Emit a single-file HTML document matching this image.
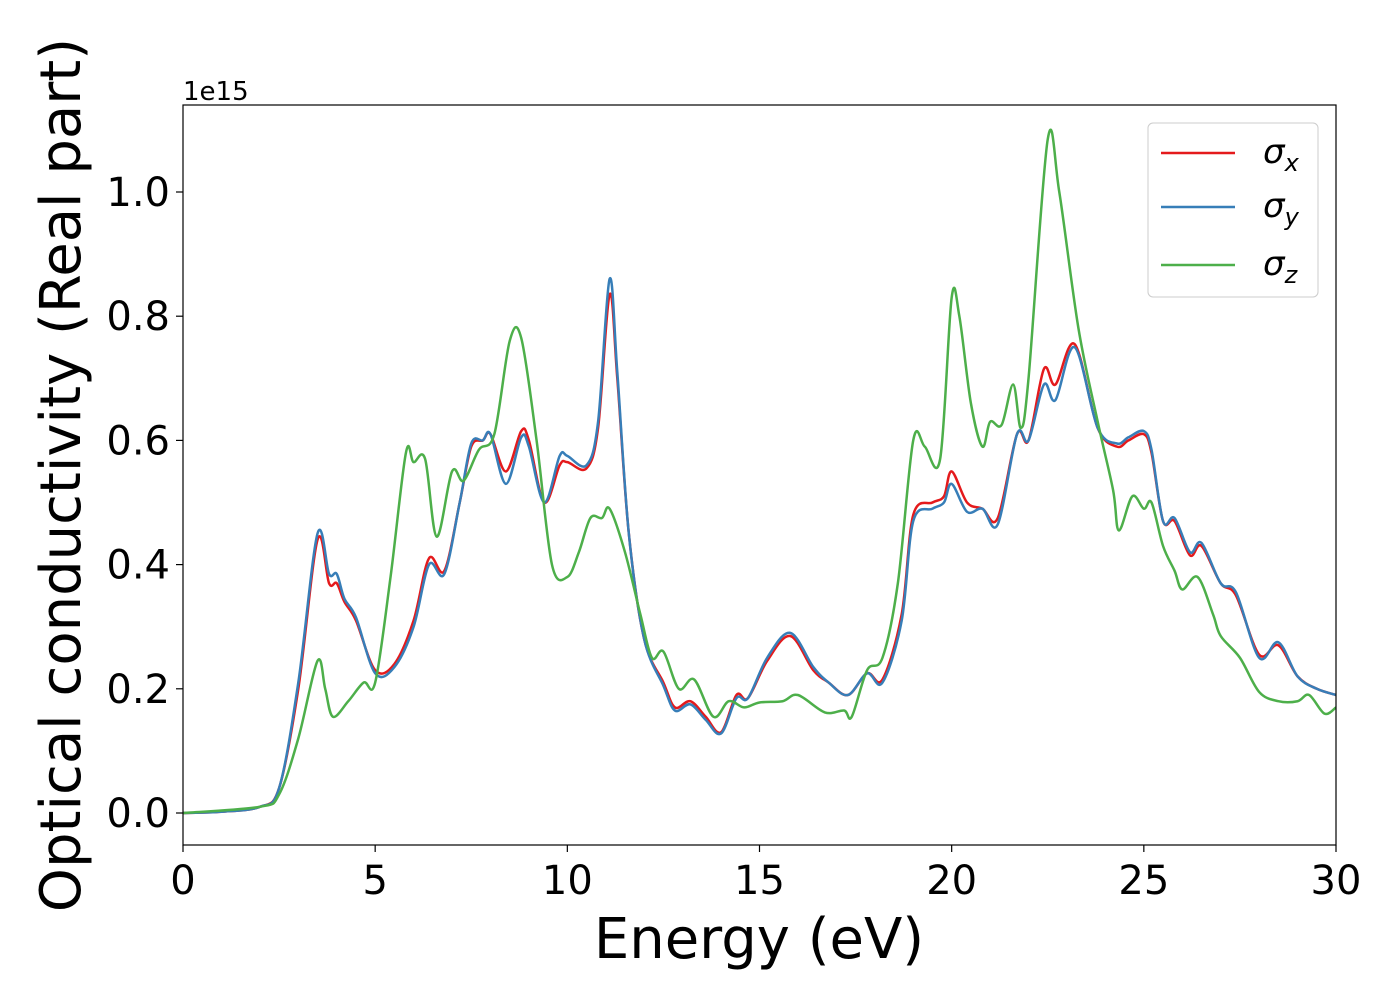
<!DOCTYPE html>
<html><head><meta charset="utf-8"><style>
body{margin:0;background:#fff;}
svg{display:block;font-family:"DejaVu Sans","Liberation Sans",sans-serif;}
</style></head><body>
<svg id="chart" width="1400" height="1000">
  <rect x="183" y="105" width="1153" height="740" fill="#fff"/>
  <g id="ticks"></g>
  <g id="lines"></g>
  <rect x="183" y="105" width="1153" height="740" fill="none" stroke="#000" stroke-width="1.2"/>
  <text x="183" y="100" font-size="26">1e15</text>
  <text x="759" y="958" font-size="56" text-anchor="middle">Energy (eV)</text>
  <text transform="translate(80,475) rotate(-90)" font-size="56" text-anchor="middle">Optical conductivity (Real part)</text>
  <g>
    <rect x="1148" y="123" width="170" height="174" rx="5" fill="#fff" fill-opacity="0.8" stroke="#ccc"/>
    <g><line x1="1161" y1="153" x2="1235" y2="153" stroke="#e41a1c" stroke-width="2.5"/><text x="1263" y="163" font-size="34" font-style="italic">σ<tspan font-size="24" dy="8">x</tspan></text></g>
    <g><line x1="1161" y1="207" x2="1235" y2="207" stroke="#377eb8" stroke-width="2.5"/><text x="1263" y="217" font-size="34" font-style="italic">σ<tspan font-size="24" dy="8">y</tspan></text></g>
    <g><line x1="1161" y1="265" x2="1235" y2="265" stroke="#4daf4a" stroke-width="2.5"/><text x="1263" y="275" font-size="34" font-style="italic">σ<tspan font-size="24" dy="8">z</tspan></text></g>
  </g>
</svg>
<script>
const xTicks=[0,5,10,15,20,25,30];
const yTicks=[0.0,0.2,0.4,0.6,0.8,1.0];
const yTickLabels=["0.0","0.2","0.4","0.6","0.8","1.0"];
const sxE=[0,1,2,2.5,3,3.5,3.8,4.0,4.2,4.5,5,5.5,6,6.4,6.8,7.2,7.5,7.8,8,8.4,8.8,9,9.4,9.8,10,10.5,10.8,11.1,11.3,11.6,12,12.5,12.8,13.2,13.6,14,14.4,14.7,15.2,15.8,16.4,16.8,17.3,17.8,18.2,18.7,19,19.5,19.8,20,20.4,20.8,21.2,21.7,22,22.4,22.7,23.2,23.8,24.3,24.6,25,25.2,25.5,25.8,26.2,26.5,27,27.4,28,28.5,29,29.5,30];
const sxV=[0,0.002,0.01,0.04,0.2,0.44,0.37,0.37,0.34,0.31,0.23,0.24,0.31,0.41,0.39,0.5,0.59,0.6,0.61,0.55,0.615,0.6,0.5,0.56,0.565,0.555,0.62,0.835,0.7,0.45,0.28,0.21,0.17,0.18,0.155,0.13,0.19,0.185,0.245,0.285,0.23,0.21,0.19,0.225,0.215,0.32,0.48,0.5,0.51,0.55,0.5,0.49,0.475,0.61,0.6,0.715,0.69,0.755,0.62,0.59,0.6,0.61,0.58,0.47,0.47,0.415,0.43,0.37,0.35,0.255,0.27,0.22,0.2,0.19];
const syV=[0,0.002,0.01,0.04,0.21,0.45,0.385,0.385,0.345,0.315,0.225,0.235,0.3,0.4,0.385,0.5,0.595,0.6,0.61,0.53,0.605,0.59,0.5,0.575,0.575,0.56,0.63,0.86,0.71,0.45,0.28,0.205,0.165,0.175,0.15,0.128,0.185,0.185,0.25,0.29,0.235,0.21,0.19,0.225,0.21,0.31,0.47,0.49,0.5,0.53,0.485,0.49,0.465,0.61,0.6,0.69,0.665,0.75,0.62,0.595,0.605,0.615,0.585,0.47,0.475,0.42,0.435,0.37,0.355,0.25,0.275,0.22,0.2,0.19];
const szE=[0,2,2.5,3,3.5,3.7,3.9,4.3,4.7,5,5.4,5.8,6.0,6.3,6.6,7,7.3,7.7,8.1,8.5,8.8,9.2,9.6,10,10.3,10.6,10.9,11.1,11.5,11.9,12.2,12.5,12.9,13.3,13.8,14.2,14.6,15,15.6,16,16.7,17.2,17.4,17.8,18.2,18.6,19,19.3,19.7,20,20.2,20.5,20.8,21,21.3,21.6,21.8,22,22.5,22.8,23.3,23.8,24.2,24.35,24.7,25,25.2,25.5,25.8,26,26.4,26.8,27,27.5,28,28.5,29,29.3,29.7,30];
const szV=[0,0.01,0.03,0.12,0.245,0.2,0.155,0.18,0.21,0.21,0.38,0.58,0.565,0.57,0.445,0.55,0.535,0.585,0.61,0.76,0.765,0.6,0.4,0.38,0.42,0.475,0.475,0.49,0.42,0.32,0.25,0.26,0.2,0.215,0.155,0.18,0.17,0.178,0.18,0.19,0.162,0.165,0.155,0.23,0.25,0.37,0.6,0.59,0.57,0.83,0.8,0.66,0.59,0.63,0.625,0.69,0.62,0.7,1.085,1.0,0.78,0.63,0.52,0.455,0.51,0.49,0.5,0.43,0.39,0.36,0.38,0.32,0.285,0.25,0.195,0.18,0.18,0.19,0.16,0.17];
const X=e=>183+e*(1153/30);
const Y=v=>813-v*621;
const NS="http://www.w3.org/2000/svg";
const ticks=document.getElementById('ticks');
function mk(tag,attrs,parent){const el=document.createElementNS(NS,tag);for(const k in attrs)el.setAttribute(k,attrs[k]);parent.appendChild(el);return el;}
xTicks.forEach(t=>{
  const l=mk('line',{x1:X(t),x2:X(t),y1:845,y2:852,stroke:'#000','stroke-width':1.2},ticks);
  
  
  const tx=mk('text',{x:X(t),y:894,'font-size':40,'text-anchor':'middle'},ticks);
  tx.textContent=t;
  
  
});
yTicks.forEach((t,i)=>{
  const l=mk('line',{x1:176,x2:183,y1:Y(t),y2:Y(t),stroke:'#000','stroke-width':1.2},ticks);
  
  
  const tx=mk('text',{x:170,y:Y(t)+14,'font-size':40,'text-anchor':'end'},ticks);
  tx.textContent=yTickLabels[i];
  
  
});
function smooth(es,vs){
  const p=es.map((e,i)=>[X(e),Y(vs[i])]);
  let d=`M${p[0][0]},${p[0][1]}`;
  for(let i=0;i<p.length-1;i++){
    const p0=p[Math.max(0,i-1)],p1=p[i],p2=p[i+1],p3=p[Math.min(p.length-1,i+2)];
    const c1=[p1[0]+(p2[0]-p0[0])/6,p1[1]+(p2[1]-p0[1])/6];
    const c2=[p2[0]-(p3[0]-p1[0])/6,p2[1]-(p3[1]-p1[1])/6];
    d+=`C${c1[0]},${c1[1]} ${c2[0]},${c2[1]} ${p2[0]},${p2[1]}`;
  }
  return d;
}
const lines=document.getElementById('lines');
[[sxE,sxV,'#e41a1c','sigma-x-line'],[sxE,syV,'#377eb8','sigma-y-line'],[szE,szV,'#4daf4a','sigma-z-line']].forEach(s=>{
  const p=mk('path',{d:smooth(s[0],s[1]),fill:'none',stroke:s[2],'stroke-width':2.5},lines);
  
  
});
</script>
</body></html>
